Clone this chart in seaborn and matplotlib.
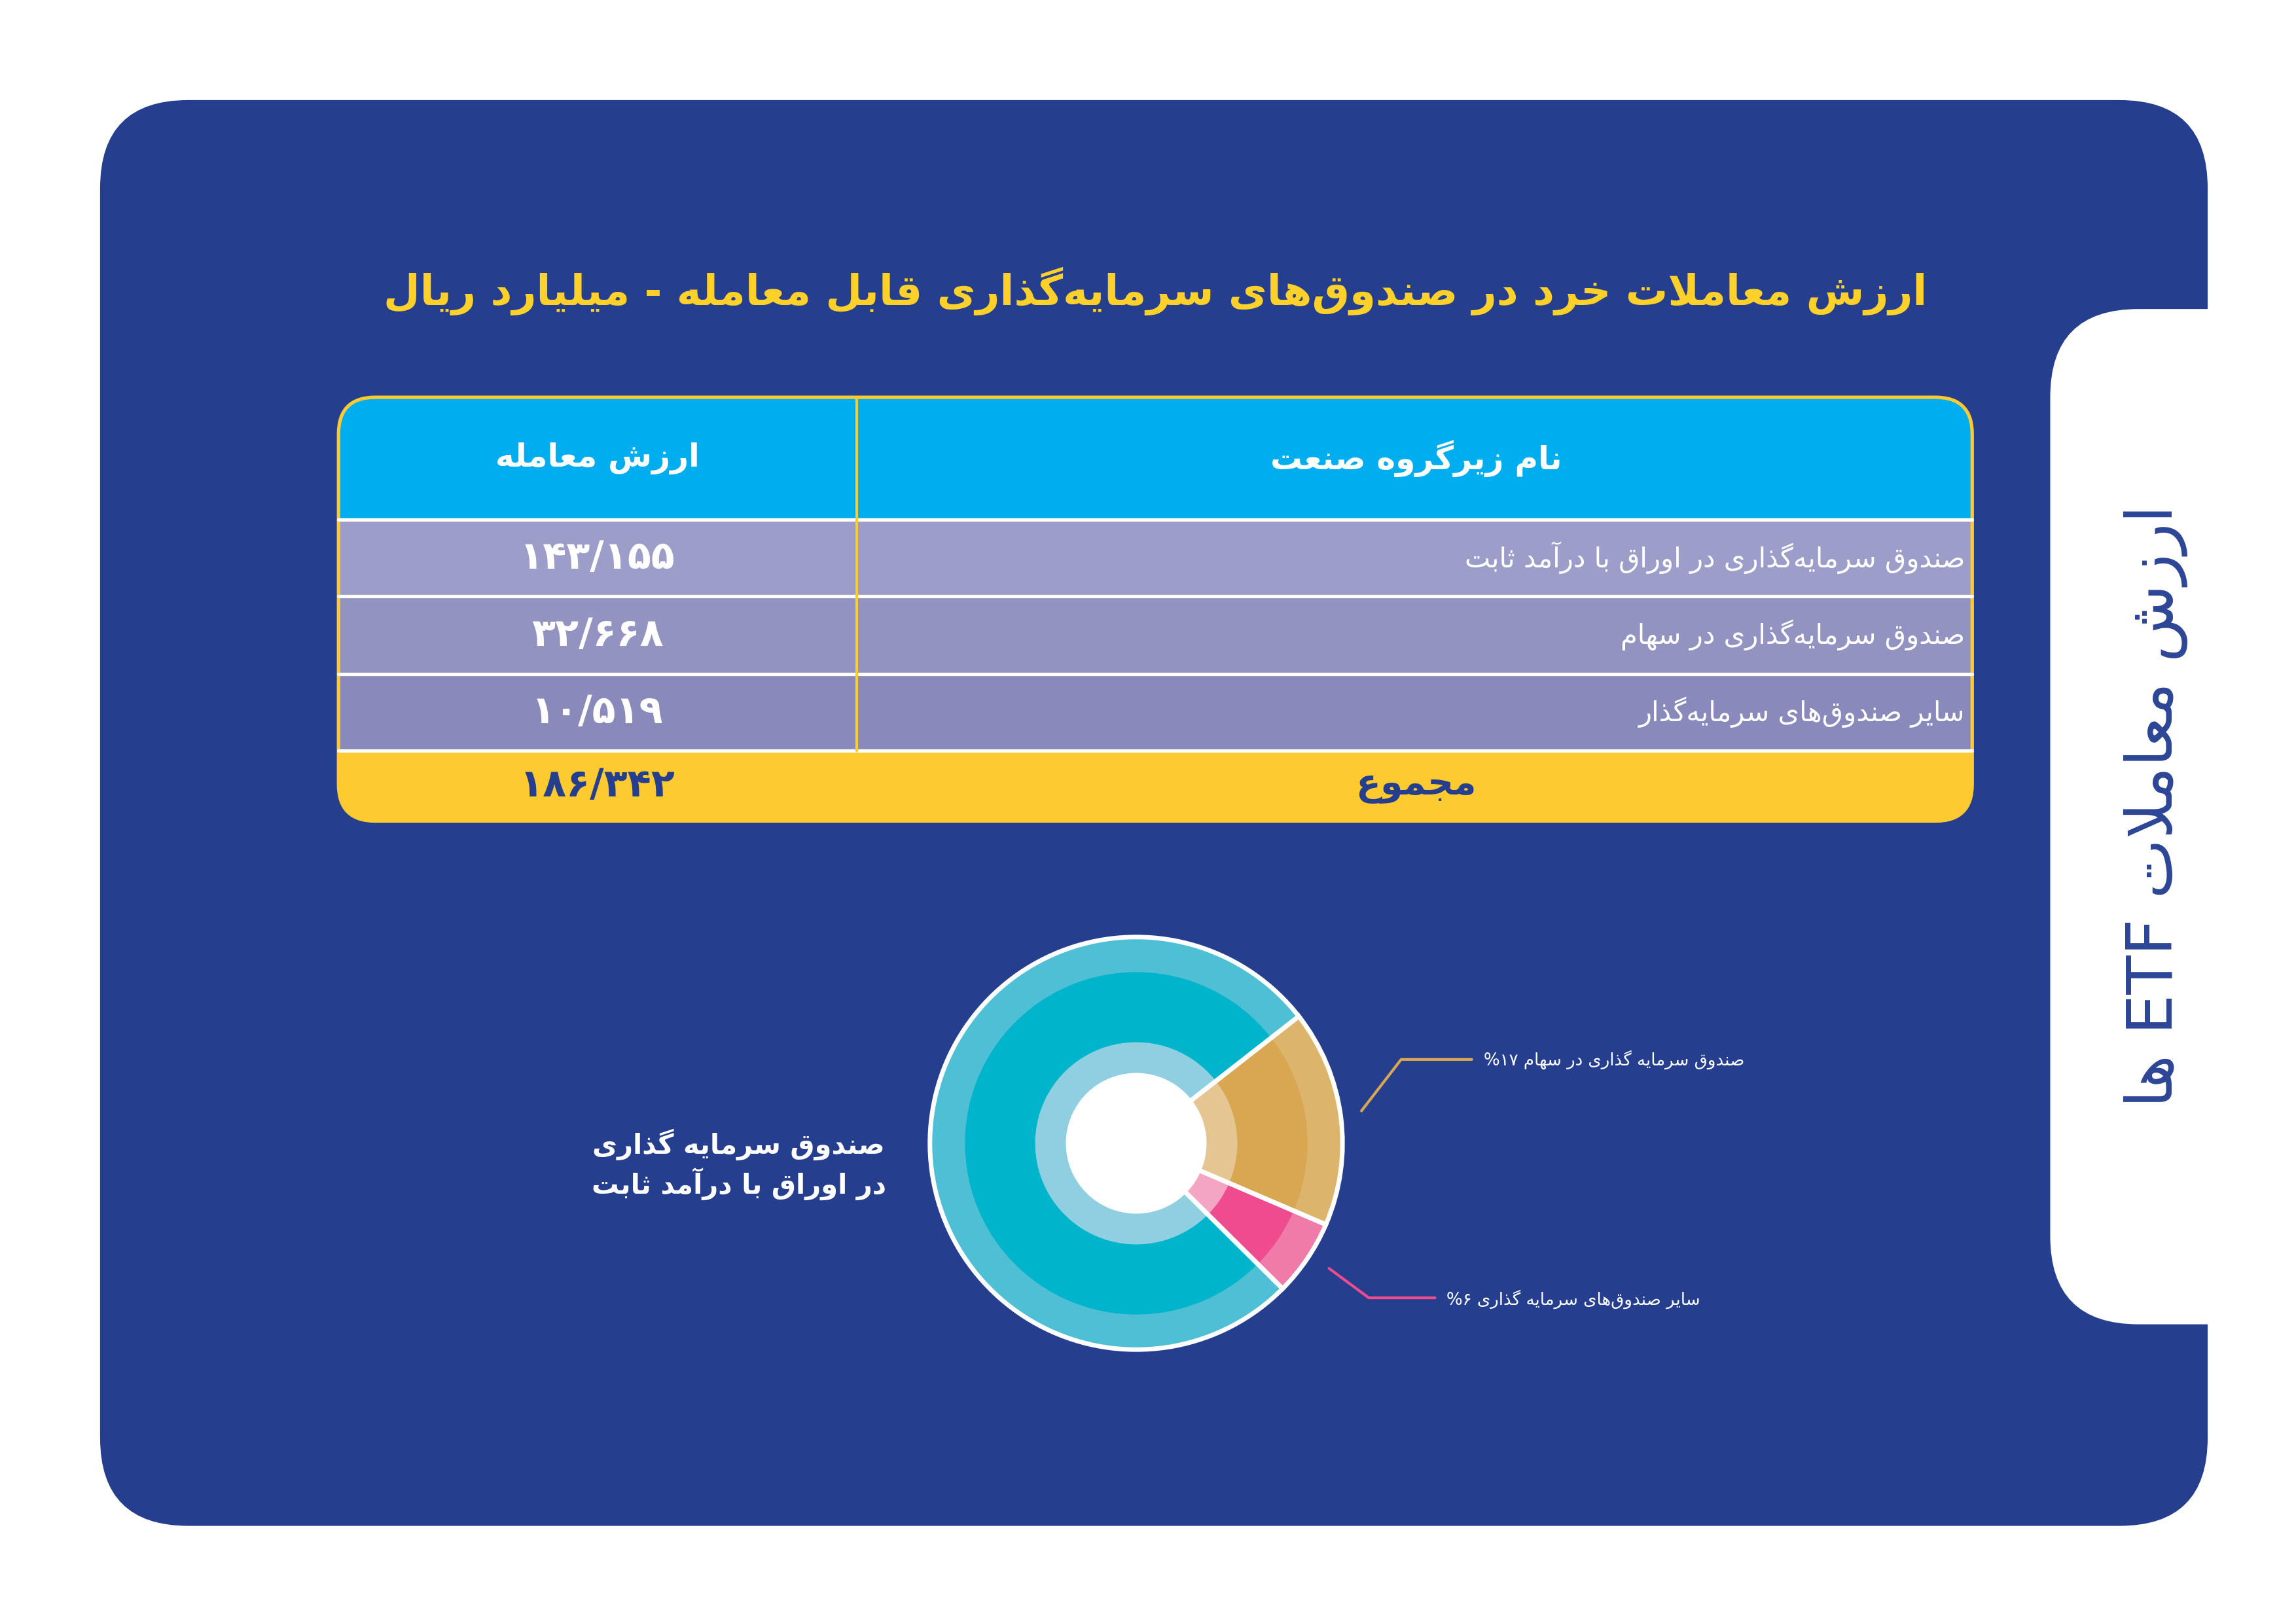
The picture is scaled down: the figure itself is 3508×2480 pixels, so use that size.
import matplotlib
matplotlib.use("Agg")
import matplotlib.pyplot as plt
import seaborn as sns
from matplotlib.patches import FancyBboxPatch, Rectangle
import re

sns.set_theme(style="white")
plt.rcParams['font.family'] = ['DejaVu Sans']

# ----------------------------------------------------------
# data
# ----------------------------------------------------------
title = "ارزش معاملات خرد در صندوق‌های سرمایه‌گذاری قابل معامله - میلیارد ریال"
side_title = "ارزش معاملات ETF ها"
col_headers = ["نام زیرگروه صنعت", "ارزش معامله"]
groups = ["صندوق سرمایه‌گذاری در اوراق با درآمد ثابت",
          "صندوق سرمایه‌گذاری در سهام",
          "سایر صندوق‌های سرمایه‌گذار"]
values = [143.155, 32.668, 10.519]
total_label = "مجموع"
total_value = 186.342
pie_names = ["صندوق سرمایه گذاری در سهام", "سایر صندوق‌های سرمایه گذاری",
             "صندوق سرمایه گذاری در اوراق با درآمد ثابت"]
pie_shares = [17, 6, 77]

# ----------------------------------------------------------
# minimal arabic/persian shaping (no external libs)
# ----------------------------------------------------------
def q(a, n):
    return [chr(a + i) for i in range(n)]

FORMS = {
    'ا': q(0xFE8D, 2), 'آ': q(0xFE81, 2), 'ب': q(0xFE8F, 4), 'ت': q(0xFE95, 4),
    'ث': q(0xFE99, 4), 'ج': q(0xFE9D, 4), 'ح': q(0xFEA1, 4), 'خ': q(0xFEA5, 4),
    'د': q(0xFEA9, 2), 'ذ': q(0xFEAB, 2), 'ر': q(0xFEAD, 2), 'ز': q(0xFEAF, 2),
    'س': q(0xFEB1, 4), 'ش': q(0xFEB5, 4), 'ص': q(0xFEB9, 4), 'ض': q(0xFEBD, 4),
    'ط': q(0xFEC1, 4), 'ظ': q(0xFEC5, 4), 'ع': q(0xFEC9, 4), 'غ': q(0xFECD, 4),
    'ف': q(0xFED1, 4), 'ق': q(0xFED5, 4), 'ک': q(0xFB8E, 4), 'گ': q(0xFB92, 4),
    'ل': q(0xFEDD, 4), 'م': q(0xFEE1, 4), 'ن': q(0xFEE5, 4), 'ه': q(0xFEE9, 4),
    'و': q(0xFEED, 2), 'ی': q(0xFBFC, 4), 'پ': q(0xFB56, 4), 'چ': q(0xFB7A, 4),
    'ژ': q(0xFB8A, 2),
}


def shape(s):
    s = s.replace('لا', '\uE000')
    chars = list(s)
    out = []
    for i, c in enumerate(chars):
        prev = chars[i - 1] if i > 0 else ''
        nxt = chars[i + 1] if i + 1 < len(chars) else ''
        pj = prev in FORMS and len(FORMS[prev]) == 4
        if c == '\uE000':
            out.append('\uFEFC' if pj else '\uFEFB')
            continue
        if c not in FORMS:
            if c != '\u200c':
                out.append(c)
            continue
        f = FORMS[c]
        nj = len(f) == 4 and (nxt in FORMS or nxt == '\uE000')
        if pj and nj:
            out.append(f[3])
        elif pj:
            out.append(f[1])
        elif nj:
            out.append(f[2])
        else:
            out.append(f[0])
    vis = ''.join(out)[::-1]
    # keep latin / digit runs left to right
    return re.sub(r'[A-Za-z0-9\u06F0-\u06F9/]+', lambda m: m.group(0)[::-1], vis)


def fa_num(v):
    t = f"{v:.3f}".replace('.', '/')
    return t.translate(str.maketrans('0123456789', '۰۱۲۳۴۵۶۷۸۹'))


def fa_int(v):
    return str(v).translate(str.maketrans('0123456789', '۰۱۲۳۴۵۶۷۸۹'))

# ----------------------------------------------------------
# figure
# ----------------------------------------------------------
W, H = 1560, 1103
fig = plt.figure(figsize=(14.032, 9.92), dpi=250)
fig.patch.set_facecolor('white')
ax = fig.add_axes([0, 0, 1, 1])
ax.set_xlim(0, W)
ax.set_ylim(H, 0)
ax.axis('off')

blue = '#253f8e'
ax.add_patch(FancyBboxPatch((68 + 60, 68 + 60), 1432 - 120, 969 - 120,
                            boxstyle="round,pad=60", fc=blue, ec='none'))
ax.add_patch(FancyBboxPatch((1393 + 60, 210 + 60), 200, 690 - 120,
                            boxstyle="round,pad=60", fc='white', ec='none'))

ax.text(785, 198, shape(title), color='#fdd12a', fontsize=18.5, fontweight='bold',
        ha='center', va='center')
ax.text(1465, 548, shape(side_title), color='#2d4596', fontsize=28,
        rotation=90, ha='center', va='center')

# table
tx0, tx1, cx = 230, 1340, 582
rows_y = [270, 353, 405, 458, 510, 558]
fills = ['#00aeef', '#9d9dc9', '#9393c2', '#8989bb', '#fdca2f']
clip = FancyBboxPatch((tx0 + 25, rows_y[0] + 25), tx1 - tx0 - 50, rows_y[-1] - rows_y[0] - 50,
                      boxstyle="round,pad=25", fc='none', ec='none')
ax.add_patch(clip)
for i, fc in enumerate(fills):
    r = Rectangle((tx0, rows_y[i]), tx1 - tx0, rows_y[i + 1] - rows_y[i], fc=fc,
                  ec='none')
    ax.add_patch(r)
    r.set_clip_path(clip)
    if 0 < i:
        ax.plot([tx0, tx1], [rows_y[i], rows_y[i]], color='white', lw=1.5)
ax.plot([cx, cx], [rows_y[0], rows_y[4]], color='#fdca2f', lw=1.2)
ax.add_patch(FancyBboxPatch((tx0 + 25, rows_y[0] + 25), tx1 - tx0 - 50, rows_y[-1] - rows_y[0] - 50,
                            boxstyle="round,pad=25", fc='none', ec='#fdca2f', lw=1.5))

ym = [(rows_y[i] + rows_y[i + 1]) / 2 for i in range(5)]
ax.text(962, ym[0], shape(col_headers[0]), color='white', fontsize=14,
        fontweight='bold', ha='center', va='center')
ax.text(406, ym[0], shape(col_headers[1]), color='white', fontsize=14,
        fontweight='bold', ha='center', va='center')
for i, (g, v) in enumerate(zip(groups, values)):
    ax.text(1335, ym[i + 1], shape(g), color='white', fontsize=12,
            ha='right', va='center')
    ax.text(406, ym[i + 1], fa_num(v), color='white', fontsize=17,
            fontweight='bold', ha='center', va='center')
ax.text(962, ym[4], shape(total_label), color=blue, fontsize=16,
        fontweight='bold', ha='center', va='center')
ax.text(406, ym[4], fa_num(total_value), color=blue, fontsize=17,
        fontweight='bold', ha='center', va='center')

# pie labels and leader lines
ax.plot([925, 952, 1000], [755, 720, 720], color='#d9a752', lw=1.2)
ax.plot([903, 930, 975], [862, 882, 882], color='#ee4c8f', lw=1.2)
ax.text(1008, 720, shape(f"{pie_names[0]} {fa_int(pie_shares[0])}%"),
        color='white', fontsize=7.5, ha='left', va='center')
ax.text(983, 883, shape(f"{pie_names[1]} {fa_int(pie_shares[1])}%"),
        color='white', fontsize=7.5, ha='left', va='center')
ax.text(502, 778, shape("صندوق سرمایه گذاری"), color='white', fontsize=12,
        fontweight='bold', ha='center', va='center')
ax.text(502, 805, shape("در اوراق با درآمد ثابت"), color='white', fontsize=12,
        fontweight='bold', ha='center', va='center')
ax.text(678, 777, shape(f"{fa_int(pie_shares[2])}%"), color='white', fontsize=14,
        fontweight='bold', ha='center', va='center')

# donut
pcx, pcy, R = 772, 777, 143
pax = fig.add_axes([(pcx - R) / W, 1 - (pcy + R) / H, 2 * R / W, 2 * R / H])
pax.set_aspect('equal')
outer_c = ['#dcb46c', '#f07aa8', '#4fbfd5']
main_c = ['#d9a651', '#ee4c8f', '#00b4cb']
inner_c = ['#e5c592', '#f4a5c4', '#90cfe1']
kw = dict(startangle=38, counterclock=False)
pax.pie(pie_shares, radius=1.0, colors=outer_c,
        wedgeprops=dict(width=0.18, edgecolor='none'), **kw)
pax.pie(pie_shares, radius=0.83, colors=main_c,
        wedgeprops=dict(width=0.35, edgecolor='none'), **kw)
pax.pie(pie_shares, radius=0.49, colors=inner_c,
        wedgeprops=dict(width=0.16, edgecolor='none'), **kw)
pax.pie([1], radius=0.33, colors=['white'])
# white outline and separators over the whole donut
pax.pie(pie_shares, radius=1.0, colors=['none'] * 3,
        wedgeprops=dict(width=0.67, edgecolor='white', linewidth=2), **kw)
pax.set_xlim(-1.02, 1.02)
pax.set_ylim(-1.02, 1.02)

fig.savefig('out.png', dpi=250, facecolor='white')
